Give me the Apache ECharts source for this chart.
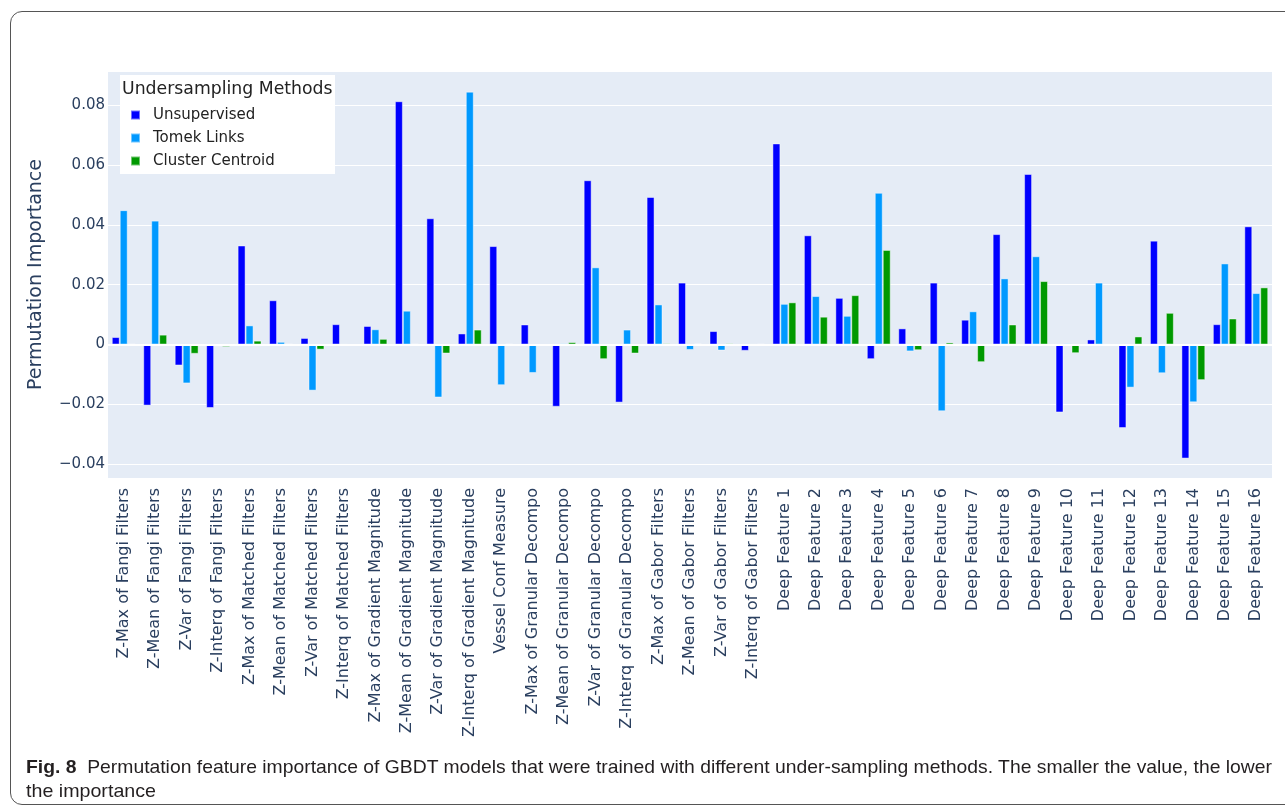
<!DOCTYPE html>
<html>
<head>
<meta charset="utf-8">
<script src="https://cdn.jsdelivr.net/npm/echarts@6/dist/echarts.min.js"></script>
<style>
  html, body { margin: 0; padding: 0; background: #fff; overflow: hidden; }
  #frame {
    position: absolute; left: 10px; top: 11px; width: 1300px; height: 794px;
    border: 1.5px solid #555; border-radius: 12px; box-sizing: border-box;
  }
  #chart { position: absolute; left: 0; top: 0; width: 1285px; height: 810px; }
  #caption {
    position: absolute; left: 26px; top: 755px; white-space: nowrap;
    font-family: 'Liberation Sans', sans-serif;
    font-size: 19px; line-height: 24px; color: #231f20;
  }
  #caption span { display: inline-block; transform-origin: left center; }
</style>
</head>
<body>
<div id="frame"></div>
<div id="chart"></div>
<div id="caption"><span id="cap1"><b>Fig. 8</b>&nbsp; Permutation feature importance of GBDT models that were trained with different under-sampling methods. The smaller the value, the lower</span><br><span id="cap2">the importance</span></div>
<script>
// feature names along the x axis
const categories = [
  'Z-Max of Fangi Filters', 'Z-Mean of Fangi Filters', 'Z-Var of Fangi Filters', 'Z-Interq of Fangi Filters',
  'Z-Max of Matched Filters', 'Z-Mean of Matched Filters', 'Z-Var of Matched Filters', 'Z-Interq of Matched Filters',
  'Z-Max of Gradient Magnitude', 'Z-Mean of Gradient Magnitude', 'Z-Var of Gradient Magnitude', 'Z-Interq of Gradient Magnitude',
  'Vessel Conf Measure',
  'Z-Max of Granular Decompo', 'Z-Mean of Granular Decompo', 'Z-Var of Granular Decompo', 'Z-Interq of Granular Decompo',
  'Z-Max of Gabor Filters', 'Z-Mean of Gabor Filters', 'Z-Var of Gabor Filters', 'Z-Interq of Gabor Filters',
  'Deep Feature 1', 'Deep Feature 2', 'Deep Feature 3', 'Deep Feature 4', 'Deep Feature 5', 'Deep Feature 6',
  'Deep Feature 7', 'Deep Feature 8', 'Deep Feature 9', 'Deep Feature 10', 'Deep Feature 11', 'Deep Feature 12',
  'Deep Feature 13', 'Deep Feature 14', 'Deep Feature 15', 'Deep Feature 16'
];

const seriesNames = ['Unsupervised', 'Tomek Links', 'Cluster Centroid'];

const unsupervised = [
  0.0025, -0.0204, -0.0070, -0.0212, 0.0331, 0.0148, 0.0022, 0.0068, 0.0062, 0.0813, 0.0422, 0.0037,
  0.0329, 0.0067, -0.0208, 0.0549, -0.0194, 0.0493, 0.0207, 0.0045, -0.0021,
  0.0672, 0.0365, 0.0156, -0.0049, 0.0054, 0.0207, 0.0083, 0.0369, 0.0570, -0.0227, 0.0017, -0.0279,
  0.0347, -0.0381, 0.0068, 0.0395
];
const tomekLinks = [
  0.0449, 0.0414, -0.0130, -0.0006, 0.0064, 0.0009, -0.0154, 0.0001, 0.0051, 0.0113, -0.0177, 0.0845,
  -0.0136, -0.0095, 0.0004, 0.0258, 0.0050, 0.0134, -0.0018, -0.0020, 0.0001,
  0.0136, 0.0162, 0.0096, 0.0507, -0.0023, -0.0223, 0.0111, 0.0221, 0.0295, 0.0004, 0.0207, -0.0144,
  -0.0096, -0.0193, 0.0271, 0.0172
];
const clusterCentroid = [
  0.0002, 0.0033, -0.0031, -0.0008, 0.0013, 0.0002, -0.0017, -0.0002, 0.0019, 0.0002, -0.0030, 0.0050,
  0.0002, -0.0005, 0.0008, -0.0049, -0.0030, 0.0004, 0.0003, 0.0004, 0.0002,
  0.0141, 0.0093, 0.0165, 0.0316, -0.0019, 0.0007, -0.0059, 0.0067, 0.0212, -0.0029, 0.0001, 0.0027,
  0.0106, -0.0119, 0.0087, 0.0191
];

const colors = ['#0000ff', '#0099ff', '#009900'];
const txt = '#2a3f5f';
const font = "'DejaVu Sans', Verdana, sans-serif";

// squeeze caption lines to the condensed width of the original
const fitLine = (id, w) => {
  const el = document.getElementById(id);
  const s = w / el.getBoundingClientRect().width;
  el.style.transform = 'scaleX(' + s + ')';
};
fitLine('cap1', 1246);
fitLine('cap2', 130);

const chart = echarts.init(document.getElementById('chart'));

const bar = (name, data, color) => ({
  name: name,
  type: 'bar',
  data: data,
  barGap: '0%',
  barCategoryGap: '24%',
  itemStyle: { color: color, borderColor: 'rgba(255,255,255,0.45)', borderWidth: 1 },
  z: 3
});

const option = {
  animation: false,
  textStyle: { fontFamily: font },
  grid: {
    left: 108, right: 13, top: 71, bottom: 332,
    show: true, backgroundColor: '#e5ecf6', borderWidth: 0
  },
  // legend box + title, plotly style
  graphic: [
    { type: 'rect', shape: { x: 120, y: 75, width: 215, height: 99 }, style: { fill: '#fff' }, z: 5 },
    { type: 'text', x: 122, y: 81, style: { text: 'Undersampling Methods', fill: '#222', font: "17.3px 'DejaVu Sans', sans-serif" }, z: 6 }
  ],
  legend: {
    data: seriesNames,
    orient: 'vertical',
    left: 130, top: 107,
    padding: [0, 0, 0, 0],
    icon: 'rect',
    itemWidth: 9, itemHeight: 9,
    itemGap: 7,
    z: 10,
    textStyle: { fontSize: 15, color: '#222', lineHeight: 16, padding: [0, 0, 0, 8], fontFamily: font }
  },
  xAxis: {
    type: 'category',
    data: categories,
    axisLine: { show: false },
    axisTick: { show: false },
    axisLabel: { rotate: 90, interval: 0, margin: 10, fontSize: 16, color: txt, fontFamily: font }
  },
  yAxis: {
    type: 'value',
    min: -0.0446,
    max: 0.0914,
    splitNumber: 7,
    name: 'Permutation Importance',
    nameLocation: 'middle',
    nameGap: 62,
    nameTextStyle: { fontSize: 19, color: txt, fontFamily: font },
    axisLine: { show: false },
    axisTick: { show: false },
    axisLabel: {
      fontSize: 15, color: txt, margin: 3, showMinLabel: false, showMaxLabel: false,
      formatter: v => {
        const r = Math.round(v * 100) / 100;
        if (r === 0) return '0';
        return (r < 0 ? '\u2212' : '') + Math.abs(r).toFixed(2);
      }
    },
    splitLine: { lineStyle: { color: '#fff', width: 1 } }
  },
  series: [
    bar(seriesNames[0], unsupervised, colors[0]),
    bar(seriesNames[1], tomekLinks, colors[1]),
    bar(seriesNames[2], clusterCentroid, colors[2]),
    {
      // zero line
      type: 'line', data: [], silent: true,
      markLine: {
        symbol: 'none', silent: true, label: { show: false },
        lineStyle: { color: '#fff', width: 2, type: 'solid' },
        data: [{ yAxis: 0 }]
      },
      z: 2
    }
  ]
};

chart.setOption(option);
</script>
</body>
</html>
